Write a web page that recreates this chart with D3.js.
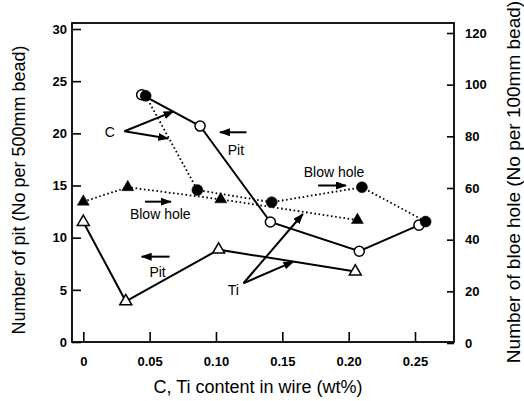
<!DOCTYPE html>
<html>
<head>
<meta charset="utf-8">
<script src="https://cdn.jsdelivr.net/npm/d3@7"></script>
<style>
body { margin: 0; background: #fff; }
svg text { font-family: "Liberation Sans", Arial, sans-serif; fill: #000; }
</style>
</head>
<body>
<div id="vis"></div>
<script>
var width = 524, height = 401;

// values
var cPitX = [0.044, 0.088, 0.141, 0.208, 0.253];
var cPit = [23.7, 20.7, 11.5, 8.7, 11.2];
var cBlowX = [0.047, 0.086, 0.142, 0.210, 0.258];
var cBlow = [95.7, 59.2, 54.5, 60.3, 47.0];
var tiPitX = [0, 0.032, 0.102, 0.205];
var tiPit = [11.5, 3.9, 8.85, 6.75];
var tiBlowX = [0, 0.0335, 0.1036, 0.2066];
var tiBlow = [54.7, 60.3, 55.6, 47.6];

var xTicks = [0, 0.05, 0.10, 0.15, 0.20, 0.25];
var xTickLabels = ['0', '0.05', '0.10', '0.15', '0.20', '0.25'];
var leftTicks = [0, 5, 10, 15, 20, 25, 30];
var rightTicks = [0, 20, 40, 60, 80, 100, 120];

// frame
var frame = {left: 72, right: 454, top: 23, bottom: 342};

var svg = d3.select('#vis')
    .append('svg')
    .attr('width', width)
    .attr('height', height);

var x = d3.scaleLinear().domain([0, 0.25]).range([83.3, 415]);
var yL = d3.scaleLinear().domain([0, 30]).range([342, 29]);
var yR = d3.scaleLinear().domain([0, 120]).range([343, 33]);

svg.append('defs').append('marker')
    .attr('id', 'head')
    .attr('markerUnits', 'userSpaceOnUse')
    .attr('markerWidth', 11)
    .attr('markerHeight', 8)
    .attr('refX', 10)
    .attr('refY', 4)
    .attr('orient', 'auto')
    .append('path')
    .attr('d', 'M0,0 L11,4 L0,8 z')
    .attr('fill', '#000');

// axes, ticks point inward
var leftAxis = d3.axisLeft(yL).tickValues(leftTicks).tickSize(-9).tickPadding(5).tickFormat(d3.format('d'));
var rightAxis = d3.axisRight(yR).tickValues(rightTicks).tickSize(-7).tickPadding(11).tickFormat(d3.format('d'));
var bottomAxis = d3.axisBottom(x).tickValues(xTicks).tickSize(-10).tickPadding(15)
    .tickFormat(function(d, i) { return xTickLabels[i]; });

function styleAxis(g) {
    g.select('.domain').remove();
    g.selectAll('line').attr('stroke', '#000').attr('stroke-width', 1.6);
    g.selectAll('text')
        .style('font-family', '"Liberation Sans", Arial, sans-serif')
        .style('font-weight', 'bold')
        .style('font-size', '13px')
        .attr('fill', '#000');
}

svg.append('g').attr('transform', 'translate(' + frame.left + ',0)').call(leftAxis).call(styleAxis);
svg.append('g').attr('transform', 'translate(' + frame.right + ',0)').call(rightAxis).call(styleAxis);
svg.append('g').attr('transform', 'translate(0,' + frame.bottom + ')').call(bottomAxis).call(styleAxis);

svg.append('rect')
    .attr('x', frame.left)
    .attr('y', frame.top)
    .attr('width', frame.right - frame.left)
    .attr('height', frame.bottom - frame.top)
    .attr('fill', 'none')
    .attr('stroke', '#000')
    .attr('stroke-width', 1.8);

// axis titles
svg.append('text')
    .attr('transform', 'translate(19,190) rotate(-90)')
    .attr('dy', '0.35em')
    .style('text-anchor', 'middle')
    .style('font-size', '18px')
    .text('Number of pit (No per 500mm bead)');

svg.append('text')
    .attr('transform', 'translate(513,182) rotate(-90)')
    .attr('dy', '0.35em')
    .style('text-anchor', 'middle')
    .style('font-size', '19px')
    .text('Number of bloe hole (No per 100mm bead)');

svg.append('text')
    .attr('x', 258)
    .attr('y', 393)
    .style('text-anchor', 'middle')
    .style('font-size', '18px')
    .text('C, Ti content in wire (wt%)');

// series
function pts(xs, ys) {
    return xs.map(function(d, i) { return [d, ys[i]]; });
}

function drawLine(data, yScale, dotted) {
    var line = d3.line()
        .x(function(d) { return x(d[0]); })
        .y(function(d) { return yScale(d[1]); });
    svg.append('path')
        .datum(data)
        .attr('d', line)
        .attr('fill', 'none')
        .attr('stroke', '#000')
        .attr('stroke-width', dotted ? 1.8 : 2)
        .attr('stroke-dasharray', dotted ? '1.6,2.6' : null);
}

function drawMarks(data, yScale, type, filled) {
    var sym = d3.symbol().type(type === 'circle' ? d3.symbolCircle : d3.symbolTriangle)
        .size(type === 'circle' ? (filled ? 95 : 80) : 62);
    svg.selectAll(null)
        .data(data)
        .enter()
        .append('path')
        .attr('d', sym)
        .attr('transform', function(d) {
            return 'translate(' + x(d[0]) + ',' + yScale(d[1]) + ')';
        })
        .attr('fill', filled ? '#000' : '#fff')
        .attr('stroke', '#000')
        .attr('stroke-width', filled ? 0.5 : 1.5);
}

var cPitData = pts(cPitX, cPit);
var cBlowData = pts(cBlowX, cBlow);
var tiPitData = pts(tiPitX, tiPit);
var tiBlowData = pts(tiBlowX, tiBlow);

drawLine(tiBlowData, yR, true);
drawLine(cBlowData, yR, true);
drawLine(tiPitData, yL, false);
drawLine(cPitData, yL, false);

drawMarks(tiBlowData, yR, 'triangle', true);
drawMarks(tiPitData, yL, 'triangle', false);
drawMarks(cPitData, yL, 'circle', false);
drawMarks(cBlowData, yR, 'circle', true);

// annotations (placed in left-axis data units)
var labels = [
    {t: 'C', x: 0.020, y: 20.1},
    {t: 'Pit', x: 0.115, y: 18.4},
    {t: 'Blow hole', x: 0.189, y: 16.3},
    {t: 'Blow hole', x: 0.058, y: 12.3},
    {t: 'Pit', x: 0.056, y: 6.74},
    {t: 'Ti', x: 0.113, y: 4.99}
];

var arrows = [
    {x1: 0.031, y1: 20.2, x2: 0.068, y2: 22.1},
    {x1: 0.031, y1: 20.2, x2: 0.064, y2: 19.5},
    {x1: 0.123, y1: 20.1, x2: 0.103, y2: 20.1},
    {x1: 0.177, y1: 15.0, x2: 0.198, y2: 15.0},
    {x1: 0.0465, y1: 13.45, x2: 0.066, y2: 13.45},
    {x1: 0.065, y1: 8.18, x2: 0.044, y2: 8.18},
    {x1: 0.1207, y1: 5.63, x2: 0.1655, y2: 12.27},
    {x1: 0.1207, y1: 5.63, x2: 0.1584, y2: 7.7}
];

svg.selectAll(null)
    .data(arrows)
    .enter()
    .append('line')
    .attr('x1', function(d) { return x(d.x1); })
    .attr('y1', function(d) { return yL(d.y1); })
    .attr('x2', function(d) { return x(d.x2); })
    .attr('y2', function(d) { return yL(d.y2); })
    .attr('stroke', '#000')
    .attr('stroke-width', 2)
    .attr('marker-end', 'url(#head)');

svg.selectAll(null)
    .data(labels)
    .enter()
    .append('text')
    .attr('x', function(d) { return x(d.x); })
    .attr('y', function(d) { return yL(d.y); })
    .attr('dy', '0.35em')
    .style('text-anchor', 'middle')
    .style('font-size', '14px')
    .text(function(d) { return d.t; });
</script>
</body>
</html>
